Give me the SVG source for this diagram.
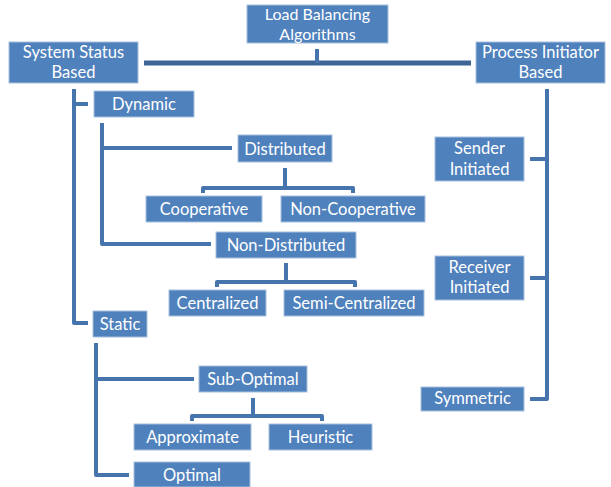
<svg xmlns="http://www.w3.org/2000/svg" width="611" height="487" viewBox="0 0 611 487">
<style>
.box{fill:#4F81BD;stroke:#A9C0DE;stroke-width:1}
.t{font-family:Lato,"Open Sans",sans-serif;font-size:16.5px;fill:#FFFFFF;text-anchor:middle}
.s{font-size:16px}
.c{fill:none;stroke:#4674AD;stroke-width:4;stroke-linejoin:round;stroke-linecap:butt}
.m{fill:none;stroke:#3E6595;stroke-width:5}
</style>
<rect width="611" height="487" fill="#FFFFFF"/>
<g id="connectors">
<path class="m" d="M144,63 H471"/>
<path class="c" d="M317,49 V63"/>
<path class="c" d="M74,89 V323 H88"/>
<path class="c" d="M74,104 H88"/>
<path class="c" d="M102,123 V244 H211"/>
<path class="c" d="M102,148 H232"/>
<path class="c" d="M285,168 V188"/>
<path class="c" d="M203,193 V188 H353 V193"/>
<path class="c" d="M286,263 V282"/>
<path class="c" d="M217,287 V282 H355 V287"/>
<path class="c" d="M96,343 V475 H129"/>
<path class="c" d="M96,379 H194"/>
<path class="c" d="M253,398 V416"/>
<path class="c" d="M192,421 V416 H322 V421"/>
<path class="c" d="M547,89 V399 H530"/>
<path class="c" d="M530,159 H547"/>
<path class="c" d="M530,278 H547"/>
</g>
<g id="load-balancing"><rect class="box" x="247" y="5" width="141" height="38"/><text class="t s" x="317.5" y="20">Load Balancing</text><text class="t s" x="317.5" y="39.5">Algorithms</text></g>
<g id="system-status"><rect class="box" x="9" y="42" width="129" height="41"/><text class="t" x="73.5" y="58">System Status</text><text class="t" x="73.5" y="78">Based</text></g>
<g id="process-initiator"><rect class="box" x="476" y="42" width="129" height="41"/><text class="t" x="540.5" y="58">Process Initiator</text><text class="t" x="540.5" y="78">Based</text></g>
<g id="dynamic"><rect class="box" x="94" y="91" width="100" height="26"/><text class="t" x="144" y="110">Dynamic</text></g>
<g id="distributed"><rect class="box" x="238" y="135" width="94" height="27"/><text class="t" x="285" y="155">Distributed</text></g>
<g id="cooperative"><rect class="box" x="146" y="196" width="116" height="26"/><text class="t" x="204" y="215">Cooperative</text></g>
<g id="non-cooperative"><rect class="box" x="281" y="196" width="144" height="26"/><text class="t" x="353" y="215">Non-Cooperative</text></g>
<g id="non-distributed"><rect class="box" x="216" y="232" width="140" height="26"/><text class="t" x="286" y="251">Non-Distributed</text></g>
<g id="centralized"><rect class="box" x="169" y="290" width="97" height="26"/><text class="t" x="217.5" y="309">Centralized</text></g>
<g id="semi-centralized"><rect class="box" x="284" y="290" width="140" height="26"/><text class="t" x="354" y="309">Semi-Centralized</text></g>
<g id="static"><rect class="box" x="93" y="311" width="54" height="26"/><text class="t" x="120" y="330">Static</text></g>
<g id="sub-optimal"><rect class="box" x="199" y="366" width="108" height="26"/><text class="t" x="253" y="385">Sub-Optimal</text></g>
<g id="approximate"><rect class="box" x="134" y="424" width="117" height="26"/><text class="t" x="192.5" y="443">Approximate</text></g>
<g id="heuristic"><rect class="box" x="269" y="424" width="103" height="26"/><text class="t" x="320.5" y="443">Heuristic</text></g>
<g id="optimal"><rect class="box" x="134" y="462" width="116" height="25"/><text class="t" x="192" y="481">Optimal</text></g>
<g id="sender-initiated"><rect class="box" x="435" y="137" width="89" height="44"/><text class="t" x="479.5" y="154">Sender</text><text class="t" x="479.5" y="175">Initiated</text></g>
<g id="receiver-initiated"><rect class="box" x="435" y="256" width="89" height="44"/><text class="t" x="479.5" y="273">Receiver</text><text class="t" x="479.5" y="293">Initiated</text></g>
<g id="symmetric"><rect class="box" x="421" y="387" width="103" height="24"/><text class="t" x="472.5" y="404">Symmetric</text></g>
</svg>
